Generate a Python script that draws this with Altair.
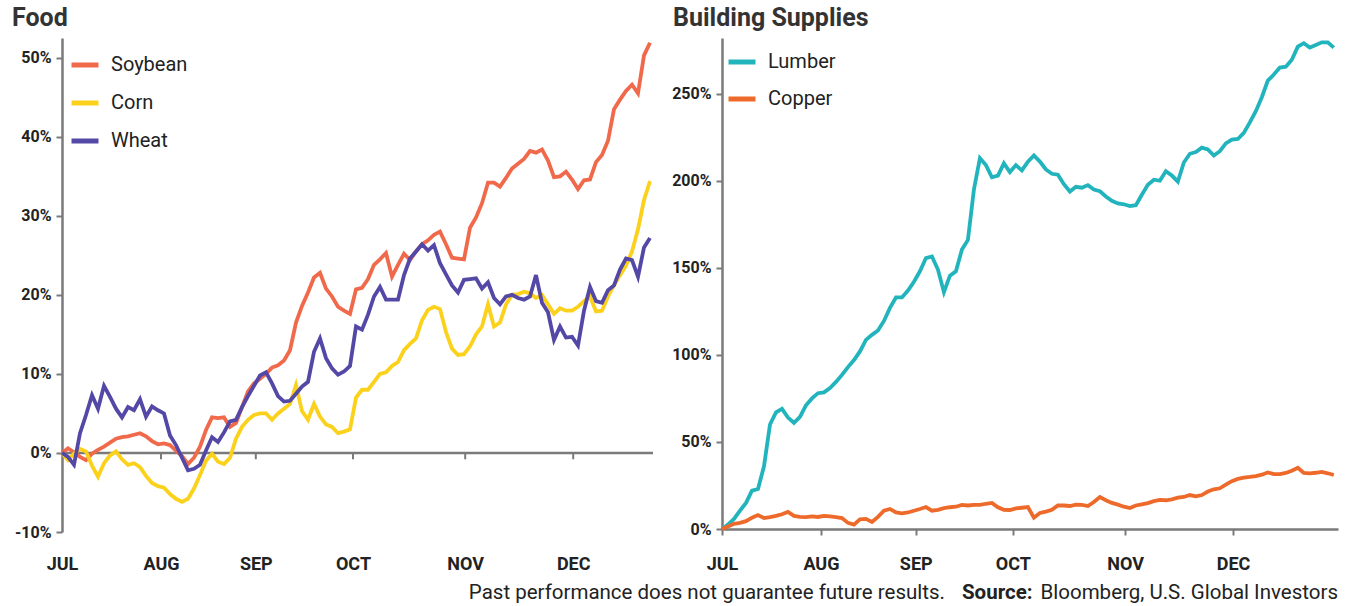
import altair as alt
import pandas as pd

# ---------------- data ----------------
months = ["JUL", "AUG", "SEP", "OCT", "NOV", "DEC"]
month_pos = [0, 16.5, 32.3, 48.5, 67.2, 85.2]   # trading-day index of each month start

food_names = ["Soybean", "Corn", "Wheat"]
food_colors = ["#F0694A", "#FBD11B", "#5448A6"]
build_names = ["Lumber", "Copper"]
build_colors = ["#22B4BD", "#EE6A2B"]

soybean = [0, 0.6, 0.1, -0.5, -0.9, -0.1, 0.4, 0.8, 1.3, 1.8, 2.0, 2.1, 2.3, 2.5, 2.1, 1.5, 1.1, 1.2, 1.0, 0.3,
           -0.4, -1.4, -0.6, 0.8, 2.9, 4.5, 4.4, 4.5, 3.3, 3.8, 5.8, 7.8, 8.8, 9.4, 10.0, 10.8, 11.1, 11.7, 13.0, 16.5,
           18.6, 20.3, 22.2, 22.8, 20.8, 19.8, 18.5, 18.0, 17.6, 20.7, 20.9, 22.0, 23.8, 24.5, 25.3, 22.3, 23.8, 25.2, 24.4, 25.5,
           26.4, 26.9, 27.6, 28.0, 26.4, 24.7, 24.6, 24.5, 28.5, 29.8, 31.6, 34.2, 34.2, 33.7, 34.8, 36.0, 36.6, 37.2, 38.2, 38.0,
           38.4, 37.0, 34.9, 35.0, 35.6, 34.6, 33.4, 34.5, 34.6, 36.8, 37.7, 39.5, 43.5, 44.7, 45.8, 46.6, 45.5, 50.3, 51.9]

corn = [0, -0.9, -0.1, 0.5, 0.2, -1.6, -3.0, -1.3, -0.3, 0.2, -0.8, -1.5, -1.3, -1.8, -2.9, -3.8, -4.2, -4.4, -5.2, -5.8,
        -6.2, -5.8, -4.5, -2.8, -1.0, -0.1, -1.1, -1.4, -0.6, 1.8, 3.3, 4.2, 4.8, 5.0, 5.0, 4.2, 5.0, 5.6, 6.2, 8.6,
        5.3, 4.2, 6.2, 4.6, 3.6, 3.3, 2.5, 2.7, 3.0, 7.0, 8.0, 8.0, 9.0, 10.0, 10.2, 11.0, 11.5, 13.0, 13.8, 14.5,
        16.8, 18.1, 18.5, 18.2, 15.3, 13.2, 12.4, 12.5, 13.5, 15.0, 16.0, 18.8, 16.0, 16.5, 18.8, 20.0, 20.1, 20.4, 20.2, 19.6,
        20.0, 18.8, 17.6, 18.3, 18.0, 18.0, 18.5, 19.2, 19.8, 17.9, 18.0, 19.8, 21.2, 22.5, 23.7, 25.5, 28.3, 32.0, 34.4]

wheat = [0, -0.5, -1.5, 2.5, 4.8, 7.3, 5.6, 8.5, 7.1, 5.6, 4.5, 5.8, 5.4, 6.8, 4.6, 5.9, 5.4, 5.0, 2.2, 1.0,
         -0.6, -2.2, -2.0, -1.5, 0.3, 2.0, 1.4, 2.6, 4.0, 4.2, 5.8, 7.2, 8.5, 9.8, 10.2, 8.8, 7.2, 6.5, 6.6, 7.5,
         8.4, 9.0, 12.8, 14.5, 12.0, 10.7, 9.9, 10.3, 11.0, 16.0, 15.6, 17.5, 19.8, 21.0, 19.4, 19.4, 19.4, 22.5, 24.6, 25.5,
         26.4, 25.6, 26.3, 24.0, 22.6, 21.2, 20.3, 21.9, 22.0, 22.1, 20.8, 21.6, 19.6, 18.8, 19.8, 20.0, 19.6, 19.4, 19.8, 22.5,
         19.0, 17.8, 14.3, 16.0, 14.6, 14.7, 13.6, 18.0, 21.0, 19.2, 19.0, 20.6, 21.2, 23.2, 24.6, 24.4, 22.3, 26.0, 27.2]

lumber = [0, 2.5, 5.8, 10.5, 15, 22, 23, 36, 60, 67, 69, 64, 61, 64.4, 71, 75, 78, 78.5, 81, 84.5,
          88.5, 93, 97, 102, 108.6, 111.5, 114, 119.5, 127, 133, 133, 137, 142, 148, 155.6, 156.5, 149, 136, 145.5, 148,
          160.5, 166, 195, 213, 209, 202, 203, 210, 205, 209, 206, 211, 214.5, 211, 206.5, 204, 203.5, 198, 193.8, 196.5,
          196, 197.5, 195, 194, 191, 188.5, 187, 186.5, 185.5, 186, 192, 197.7, 200.6, 200, 205.5, 203, 199.5, 210.5, 215.5, 216.5,
          219, 218, 214.5, 217, 221.5, 223.6, 224, 227.5, 233.5, 240, 248, 257.5, 261, 265, 265.5, 269.5, 277, 279, 276.5, 278,
          279.5, 279.5, 276.5]

copper = [0, 1.5, 3, 3.5, 4.5, 6.5, 8, 6.3, 6.8, 7.5, 8.5, 9.8, 7.5, 7, 6.8, 7.2, 6.9, 7.5, 7.3, 6.8,
          6.3, 3.5, 2.5, 5.5, 5.8, 4, 7, 10.5, 11.5, 9.5, 9, 9.5, 10.5, 11.5, 12.6, 10.5, 11, 12, 12.5, 12.8,
          13.8, 13.5, 13.8, 13.8, 14.5, 15, 12.5, 11, 10.9, 11.8, 12.2, 12.6, 6.5, 9.2, 10, 11, 13.5, 13.5, 13.2, 14,
          13.8, 13.2, 15.5, 18.4, 16.5, 15, 14, 12.8, 12, 13.5, 14.2, 14.9, 16, 16.7, 16.5, 17, 18, 18.4, 19.5, 18.8,
          19.5, 21.5, 22.8, 23.4, 25.5, 27.5, 28.8, 29.5, 29.9, 30.4, 31.2, 32.5, 31.5, 31.5, 32.2, 33.5, 35.2, 32.2, 32, 32.3,
          32.8, 32, 31]

note_text = "Past performance does not guarantee future results."
source_label = "Source:"
source_text = "Bloomberg, U.S. Global Investors"

# ---------------- tables ----------------
def long_table(names, series):
    rows = []
    for name, vals in zip(names, series):
        for i, v in enumerate(vals):
            rows.append({"day": i, "value": v, "series": name})
    return pd.DataFrame(rows)

food_df = long_table(food_names, [soybean, corn, wheat])
build_df = long_table(build_names, [lumber, copper])
tick_df = pd.DataFrame({"day": month_pos[1:]})

FONT = "Roboto"
AXIS_GREY = "#7a7a7a"
TEXT = "#222222"


def month_expr():
    parts = []
    for i in range(len(months) - 1):
        mid = (month_pos[i] + month_pos[i + 1]) / 2
        parts.append(f"datum.value < {mid} ? '{months[i]}' : ")
    return "".join(parts) + f"'{months[-1]}'"


# ---------------- left panel: Food ----------------
LW, LH = 591, 494
x_left = alt.X("day:Q", scale=alt.Scale(domain=[0, 98.5], nice=False, zero=False),
               axis=alt.Axis(values=month_pos, labelExpr=month_expr(), domain=False, ticks=False,
                             grid=False, title=None, labelPadding=23, labelFontSize=18,
                             labelFontWeight="bold", labelColor=TEXT, labelFlush=False))
y_left = alt.Y("value:Q", scale=alt.Scale(domain=[-10, 52.5], nice=False, zero=False),
               axis=alt.Axis(values=[-10, 0, 10, 20, 30, 40, 50], labelExpr="datum.value + '%'",
                             grid=False, title=None))

food_lines = alt.Chart(food_df).mark_line(strokeWidth=3.8).encode(
    x=x_left, y=y_left,
    color=alt.Color("series:N",
                    scale=alt.Scale(domain=food_names, range=food_colors),
                    legend=alt.Legend(title=None, orient="none", legendX=7, legendY=11,
                                      symbolType="stroke", symbolSize=729, symbolStrokeWidth=5,
                                      labelFontSize=20, labelColor=TEXT, rowPadding=12,
                                      labelOffset=10, padding=0)),
    detail="series:N",
)

zero_rule = alt.Chart(pd.DataFrame({"v": [0]})).mark_rule(color=AXIS_GREY, strokeWidth=2.5).encode(
    y=alt.Y("v:Q"))

month_ticks = alt.Chart(tick_df).mark_rule(color=AXIS_GREY, strokeWidth=2).encode(
    x=alt.X("day:Q"), y=alt.datum(0), y2=alt.datum(-0.8))

left = alt.layer(zero_rule, month_ticks, food_lines).properties(
    width=LW, height=LH,
    title=alt.TitleParams("Food", anchor="start", frame="group", dx=-50, fontSize=25,
                          fontWeight="bold", color="#333333", offset=4, font=FONT))

# ---------------- right panel: Building Supplies ----------------
RW, RH = 616, 491
x_right = alt.X("day:Q", scale=alt.Scale(domain=[0, 102.7], nice=False, zero=False),
                axis=alt.Axis(values=month_pos, labelExpr=month_expr(), grid=False, title=None,
                              tickSize=6, labelPadding=20, labelFontSize=18,
                              labelFontWeight="bold", labelColor=TEXT, labelFlush=False))
y_right = alt.Y("value:Q", scale=alt.Scale(domain=[0, 282], nice=False, zero=False),
                axis=alt.Axis(values=[0, 50, 100, 150, 200, 250], labelExpr="datum.value + '%'",
                              grid=False, title=None))

build_lines = alt.Chart(build_df).mark_line(strokeWidth=3.8).encode(
    x=x_right, y=y_right,
    color=alt.Color("series:N",
                    scale=alt.Scale(domain=build_names, range=build_colors),
                    legend=alt.Legend(title=None, orient="none", legendX=4, legendY=8,
                                      symbolType="stroke", symbolSize=729, symbolStrokeWidth=5,
                                      labelFontSize=20, labelColor=TEXT, rowPadding=11,
                                      labelOffset=10, padding=0)),
)

FOOT_Y = 593 - 38
note = alt.Chart(pd.DataFrame({"t": [note_text]})).mark_text(
    align="right", baseline="middle", fontSize=20.5, color=TEXT, font=FONT).encode(
    x=alt.value(945 - 722), y=alt.value(FOOT_Y), text="t:N")
src_b = alt.Chart(pd.DataFrame({"t": [source_label]})).mark_text(
    align="left", baseline="middle", fontSize=20.5, fontWeight="bold", color=TEXT, font=FONT).encode(
    x=alt.value(962 - 722), y=alt.value(FOOT_Y), text="t:N")
src = alt.Chart(pd.DataFrame({"t": [source_text]})).mark_text(
    align="right", baseline="middle", fontSize=20.5, color=TEXT, font=FONT).encode(
    x=alt.value(RW), y=alt.value(FOOT_Y), text="t:N")

right = alt.layer(build_lines, note, src_b, src).properties(
    width=RW, height=RH,
    title=alt.TitleParams("Building Supplies", anchor="start", frame="group", dx=-49, fontSize=25,
                          fontWeight="bold", color="#333333", offset=4, font=FONT))

chart = alt.hconcat(left, right, spacing=69, bounds="flush").resolve_scale(
    color="independent", x="independent", y="independent"
).configure(font=FONT, padding={"left": 12, "right": 5, "top": 5, "bottom": 0}).configure_view(
    stroke=None
).configure_axis(
    domainColor=AXIS_GREY, domainWidth=2.5, tickColor=AXIS_GREY, tickWidth=2, tickSize=6,
    labelPadding=5, labelFontSize=16, labelFontWeight="bold", labelColor=TEXT, labelFont=FONT
).configure_legend(labelFont=FONT)

chart.save("out.html", embed_options={"renderer": "svg", "actions": False})
